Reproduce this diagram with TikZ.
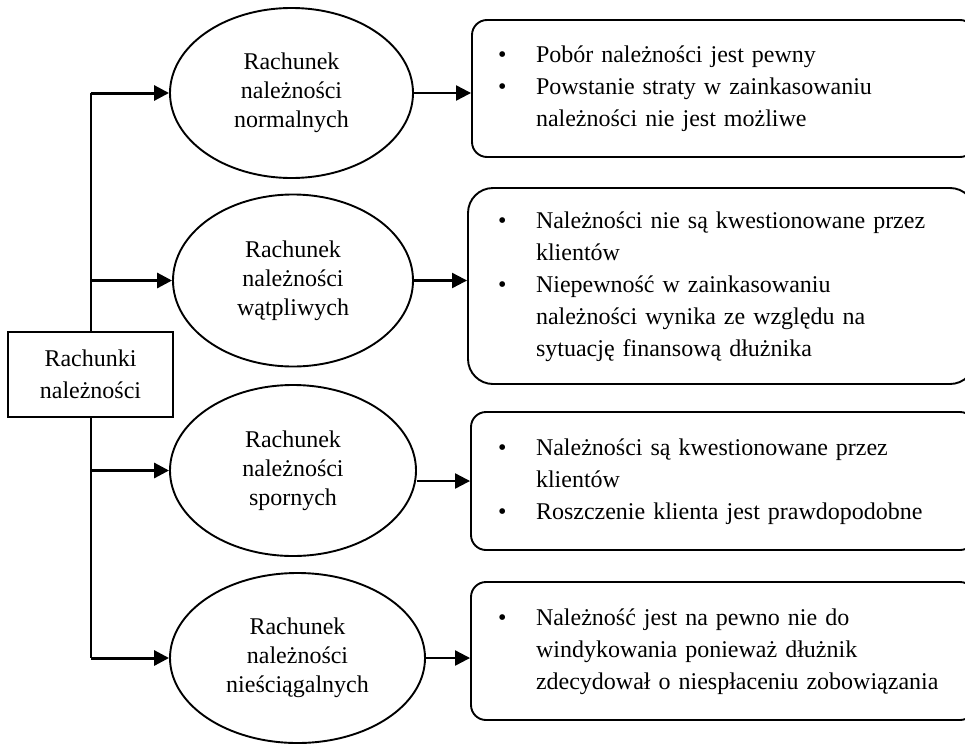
\documentclass[tikz,border=0pt]{standalone}
\usepackage{fontspec}
\setmainfont{Liberation Serif}
\usetikzlibrary{arrows.meta,shapes.geometric}
\begin{document}
\begin{tikzpicture}[x=1pt,y=-1pt,
  ell/.style={draw,ellipse,line width=1.9pt,inner sep=0pt,align=center,font=\fontsize{24}{29}\selectfont},
  rootbox/.style={draw,rectangle,line width=1.9pt,inner sep=0pt,align=center,font=\fontsize{24}{32}\selectfont},
  infobox/.style={draw,rectangle,rounded corners=15pt,line width=1.9pt,inner ysep=0pt,align=left,font=\fontsize{24}{32}\selectfont},
  trunk/.style={line width=2pt},
  branch/.style={line width=3pt,-{Triangle[length=15pt,width=15pt]}},
  link/.style={line width=2.2pt,-{Triangle[length=15pt,width=15pt]}}]
\clip (0,0) rectangle (965,744);
\useasboundingbox (0,0) rectangle (965,744);

\node[rootbox,minimum width=165,minimum height=85] (r) at (90.5,374.5) {Rachunki\\należności};

\node[ell,minimum width=243,minimum height=170] (e1) at (291.5,93) {Rachunek\\należności\\normalnych};
\node[ell,minimum width=240,minimum height=172] (e2) at (293,280.5) {Rachunek\\należności\\wątpliwych};
\node[ell,minimum width=246,minimum height=171] (e3) at (293,470.5) {Rachunek\\należności\\spornych};
\node[ell,minimum width=255,minimum height=170] (e4) at (297.5,658) {Rachunek\\należności\\nieściągalnych};

\node[infobox,minimum width=503,minimum height=137,inner xsep=26pt,text width=451pt] (b1) at (723.5,88.5)
 {\begin{tabular}{@{}p{38pt}@{}l@{}}
 \textbullet & Pobór należności jest pewny\\
 \textbullet & Powstanie straty w zainkasowaniu\\
  & należności nie jest możliwe
 \end{tabular}};
\node[infobox,rounded corners=25pt,minimum width=507,minimum height=196,inner xsep=30pt,text width=447pt] (b2) at (721.5,286)
 {\begin{tabular}{@{}p{38pt}@{}l@{}}
 \textbullet & Należności nie są kwestionowane przez\\
  & klientów\\
 \textbullet & Niepewność w zainkasowaniu\\
  & należności wynika ze względu na\\
  & sytuację finansową dłużnika
 \end{tabular}};
\node[infobox,minimum width=504,minimum height=138,inner xsep=27pt,text width=450pt] (b3) at (723,481)
 {\begin{tabular}{@{}p{38pt}@{}l@{}}
 \textbullet & Należności są kwestionowane przez\\
  & klientów\\
 \textbullet & Roszczenie klienta jest prawdopodobne
 \end{tabular}};
\node[infobox,minimum width=504,minimum height=138,inner xsep=27pt,text width=450pt] (b4) at (723,651)
 {\begin{tabular}{@{}p{38pt}@{}l@{}}
 \textbullet & Należność jest na pewno nie do\\
  & windykowania ponieważ dłużnik\\
  & zdecydował o niespłaceniu zobowiązania
 \end{tabular}};

\coordinate (j1) at (r.north |- e1.west);
\coordinate (j2) at (r.north |- e2.west);
\coordinate (j3) at (r.south |- e3.west);
\coordinate (j4) at (r.south |- e4.west);

\draw[trunk] (r.north) -- (j1);
\draw[trunk] (r.south) -- (j4);
\draw[branch] (j1) -- (e1.west);
\draw[branch] (j2) -- (e2.west);
\draw[branch] (j3) -- (e3.west);
\draw[branch] (j4) -- (e4.west);

\draw[link] (e1.east) -- (e1.east -| b1.west);
\draw[link] (e2.east) -- (e2.east -| b2.west);
\draw[link] (b3.west -| e3.east) -- (b3.west);
\draw[link] (e4.east) -- (e4.east -| b4.west);
\end{tikzpicture}
\end{document}
